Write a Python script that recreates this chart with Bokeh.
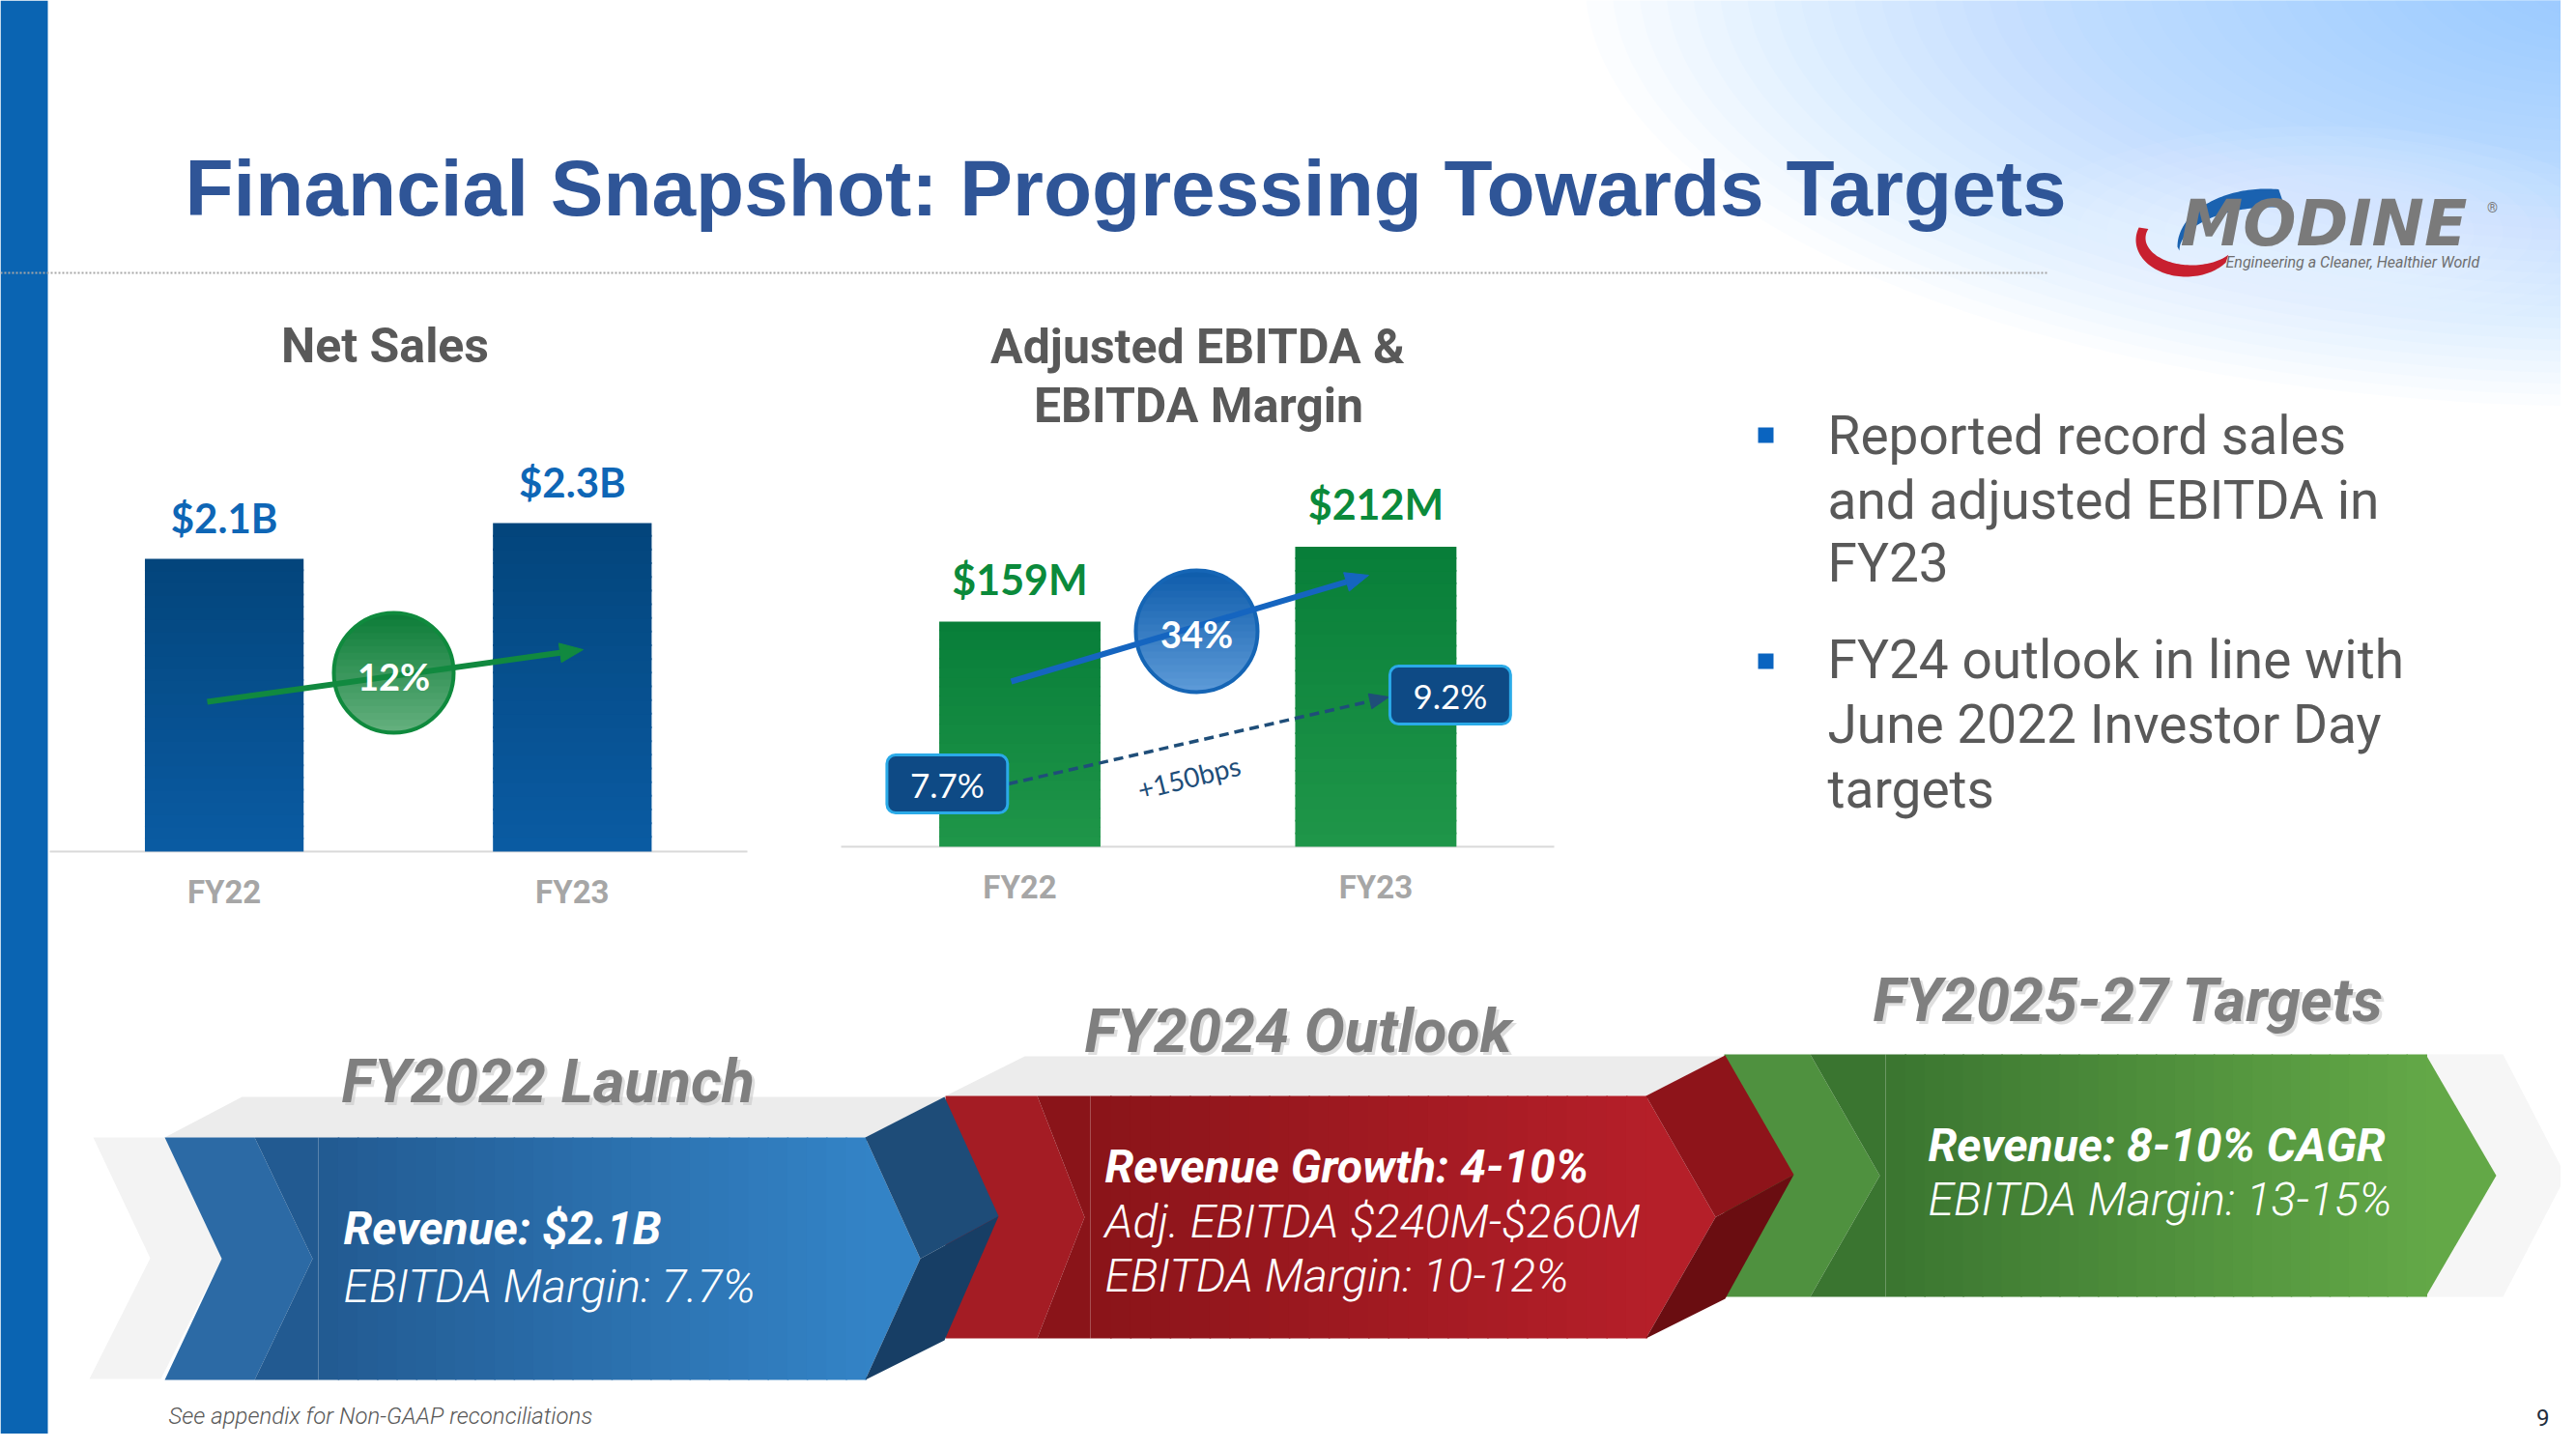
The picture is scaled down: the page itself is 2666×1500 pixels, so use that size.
import numpy as np
from bokeh.plotting import figure
from bokeh.models import Range1d, Rect
from bokeh.core.properties import value
from bokeh.embed import file_html
from bokeh.resources import INLINE

# ---------------- data ----------------
categories = ["FY22", "FY23"]
net_sales = [2.05, 2.30]                 # $B
net_sales_labels = ["$2.1B", "$2.3B"]
sales_growth = "12%"
ebitda = [159, 212]                      # $M
ebitda_labels = ["$159M", "$212M"]
ebitda_growth = "34%"
ebitda_margin = [7.7, 9.2]               # %
margin_labels = ["7.7%", "9.2%"]
margin_change = "+150bps"

title = "Financial Snapshot: Progressing Towards Targets"
chart_titles = ["Net Sales", "Adjusted EBITDA &", "EBITDA Margin"]
bullets = [["Reported record sales", "and adjusted EBITDA in", "FY23"],
           ["FY24 outlook in line with", "June 2022 Investor Day", "targets"]]
stage_titles = ["FY2022 Launch", "FY2024 Outlook", "FY2025-27 Targets"]
stage_bold = ["Revenue: $2.1B", "Revenue Growth: 4-10%", "Revenue: 8-10% CAGR"]
stage_light = [["EBITDA Margin: 7.7%"],
               ["Adj. EBITDA $240M-$260M", "EBITDA Margin: 10-12%"],
               ["EBITDA Margin: 13-15%"]]
footnote = "See appendix for Non-GAAP reconciliations"
page_no = "9"

# ---------------- canvas (data units = screenshot pixels) ----------------
FW, FH = 2650, 1484
p = figure(width=FW, height=FH, x_range=Range1d(0, FW), y_range=Range1d(FH, 0),
           output_backend="svg", toolbar_location=None,
           x_axis_location=None, y_axis_location=None, min_border=0,
           background_fill_color="white", border_fill_color="white")
p.grid.visible = False
p.outline_line_color = None


def lin_x(p0, scale):
    return Range1d(start=-p0 / scale, end=(FW - p0) / scale)


def lin_y(p0, scale, v0=0.0):
    return Range1d(start=v0 - (FH - p0) / scale, end=v0 + p0 / scale)


p.extra_x_ranges = {"ns_x": lin_x(231.6, 360.2), "eb_x": lin_x(1055.0, 368.4)}
p.extra_y_ranges = {"ns_y": lin_y(881.0, 147.8), "eb_y": lin_y(876.0, 1.465),
                    "mg_y": lin_y(811.0, 61.33, 7.7)}

ROBOTO = value("Roboto")
LIGHT = value("'Roboto Light', Roboto")
LATO = value("Lato")
ARIAL = value("Liberation Sans")


def txt(x, y, s, size, color, font=ROBOTO, style="normal", align="left",
        angle=0.0, alpha=1.0, **kw):
    """y is the vertical centre of the capitals."""
    p.text(x=[x], y=[y], text=[s], text_font=font, text_font_size=f"{size}px",
           text_font_style=style, text_color=color, text_align=align,
           text_baseline="middle", angle=angle, text_alpha=alpha, **kw)


def hex2rgb(h):
    h = h.lstrip("#")
    return np.array([int(h[i:i + 2], 16) for i in (0, 2, 4)], dtype=float)


def mix(c0, c1, t):
    a, b = hex2rgb(c0), hex2rgb(c1)
    c = a + (b - a) * t
    return "#%02x%02x%02x" % tuple(int(round(v)) for v in c)


def arrow(x0, y0, x1, y1, color, width, head_len, head_w, dash="solid"):
    d = np.array([x1 - x0, y1 - y0], dtype=float)
    L = np.hypot(*d)
    u = d / L
    n = np.array([-u[1], u[0]])
    base = np.array([x1, y1]) - u * head_len
    p.segment(x0=[x0], y0=[y0], x1=[base[0]], y1=[base[1]], line_color=color,
              line_width=width, line_dash=dash)
    a = base + n * head_w / 2
    b = base - n * head_w / 2
    p.patch([x1, a[0], b[0]], [y1, a[1], b[1]], fill_color=color, line_color=color)


def grad_bars(vals, width, c_bottom, c_top, xr, yr, n=24):
    """Bars drawn from their values, shaded bottom->top in n slices."""
    for k in range(n):
        bot = [v * k / n for v in vals]
        top = [v * (k + 1) / n + (v * 0.006 if k < n - 1 else 0) for v in vals]
        p.vbar(x=list(range(len(vals))), bottom=bot, top=top, width=width,
               fill_color=mix(c_bottom, c_top, (k + 0.5) / n), line_color=None,
               x_range_name=xr, y_range_name=yr)


def grad_circle(cx, cy, r, c_top, c_bot, ring, n=18):
    edges = np.linspace(cy - r, cy + r, n + 1)
    for k in range(n):
        ys = np.linspace(edges[k], min(edges[k + 1] + 1.2, cy + r), 6)
        w = np.sqrt(np.clip(r * r - (ys - cy) ** 2, 0, None))
        p.patch(np.r_[cx - w, (cx + w)[::-1]], np.r_[ys, ys[::-1]],
                fill_color=mix(c_top, c_bot, (k + 0.5) / n), line_color=None)
    p.scatter(x=[cx], y=[cy], size=2 * r, marker="circle", fill_color=None,
              line_color=ring, line_width=4)


# ---------------- background ----------------
NG = 36
for i in range(NG):
    f = 1 - i / NG
    p.ellipse(x=[2700], y=[-20], width=[2000 * f + 120], height=[820 * f + 60],
              fill_color="#86C9F4", fill_alpha=0.032, line_color=None)
for i in range(6):
    p.ellipse(x=[2400], y=[240], width=[620 - 60 * i], height=[220 - 20 * i],
              fill_color="white", fill_alpha=0.06, line_color=None)

# left strip
p.quad(left=[0], right=[49], top=[0], bottom=[FH], fill_color="#0A64B2", line_color=None)

# title + dotted rule
txt(191, 194, title, 82, "#2F5597", font=ARIAL, style="bold")
p.segment(x0=[0], y0=[282], x1=[2120], y1=[282], line_color="#A6A6A6",
          line_width=2, line_dash="2 2")

# ---------------- logo ----------------
def crescent(c1, r1, c2, r2, a0, a1, color):
    t = np.radians(np.linspace(a0, a1, 60))
    xo = c1[0] + r1[0] * np.cos(t)
    yo = c1[1] - r1[1] * np.sin(t)
    xi = c2[0] + r2[0] * np.cos(t[::-1])
    yi = c2[1] - r2[1] * np.sin(t[::-1])
    p.patch(np.r_[xo, xi], np.r_[yo, yi], fill_color=color, line_color=None)


crescent((2345, 255), (92, 60), (2351, 259), (96, 45), 82, 180, "#1A62B0")
crescent((2262, 248), (52, 38), (2268, 246), (48, 28), 160, 322, "#C8202F")
txt(2256, 231, "MODINE", 65, "#7A7A7A", font=value("DejaVu Sans"), style="bold italic")
txt(2579, 214, "®", 14, "#7A7A7A", align="center")
txt(2303, 271, "Engineering a Cleaner, Healthier World", 16, "#6E6E6E", style="italic")

# ---------------- Net Sales chart ----------------
idx = list(range(len(categories)))
txt(398, 357, chart_titles[0], 50, "#595959", style="bold", align="center")
p.segment(x0=[51], y0=[0], x1=[773], y1=[0], line_color="#D9D9D9", line_width=2,
          y_range_name="ns_y")
grad_bars(net_sales, 0.456, "#0A5BA3", "#03457B", "ns_x", "ns_y")
p.text(x=idx, y=net_sales, text=net_sales_labels, y_offset=-43, text_font=LATO,
       text_font_size="42px", text_font_style="bold", text_color="#0E66B6",
       text_align="center", text_baseline="middle",
       x_range_name="ns_x", y_range_name="ns_y")
p.text(x=idx, y=[923] * 2, text=categories, text_font=ROBOTO, text_font_size="33px",
       text_font_style="bold", text_color="#A6A6A6", text_align="center",
       text_baseline="middle", x_range_name="ns_x")
grad_circle(407, 696, 62, "#0B7C37", "#66B07F", "#0F8A3D")
arrow(214, 726, 603, 672, "#11893F", 6, 24, 20)
txt(407, 699, sales_growth, 38, "white", font=LATO, style="bold", align="center")

# ---------------- Adjusted EBITDA chart ----------------
txt(1239, 358, chart_titles[1], 50, "#595959", style="bold", align="center")
txt(1240, 419, chart_titles[2], 50, "#595959", style="bold", align="center")
p.segment(x0=[870], y0=[0], x1=[1608], y1=[0], line_color="#D9D9D9", line_width=2,
          y_range_name="eb_y")
grad_bars(ebitda, 0.453, "#1F9649", "#087E39", "eb_x", "eb_y")
p.text(x=idx, y=ebitda, text=ebitda_labels, y_offset=-44, text_font=LATO,
       text_font_size="43px", text_font_style="bold", text_color="#0B8A3B",
       text_align="center", text_baseline="middle",
       x_range_name="eb_x", y_range_name="eb_y")
p.text(x=idx, y=[917.5] * 2, text=categories, text_font=ROBOTO, text_font_size="33px",
       text_font_style="bold", text_color="#A6A6A6", text_align="center",
       text_baseline="middle", x_range_name="eb_x")
grad_circle(1238, 653, 63, "#0E5CAB", "#5E9BD8", "#1565B5")
arrow(1046, 705, 1416, 595, "#1565C0", 6, 24, 20)
txt(1238, 655, ebitda_growth, 38, "white", font=LATO, style="bold", align="center")

# margin boxes
box_dx = [-0.204, 0.209]
mx = [i + d for i, d in zip(idx, box_dx)]
rect_kw = dict(fill_color="#0E4A85", line_color="#2AAAE8", line_width=3)
if "border_radius" in Rect.properties():
    rect_kw["border_radius"] = 9
arrow(1043, 811, 1437, 721, "#1F4E79", 3.5, 20, 16, dash="10 6")
p.rect(x=mx, y=ebitda_margin, width=0.339, height=0.978, x_range_name="eb_x",
       y_range_name="mg_y", **rect_kw)
p.text(x=mx, y=ebitda_margin, text=margin_labels, text_font=LATO, text_font_size="35px",
       text_color="white", text_align="center", text_baseline="middle",
       x_range_name="eb_x", y_range_name="mg_y")
txt(1230, 804, margin_change, 28, "#1F4E79", font=LATO, align="center",
    angle=np.radians(14))

# ---------------- bullets ----------------
bullet_y = [450, 684]
p.scatter(x=[1827, 1827], y=bullet_y, marker="square", size=16, fill_color="#0A64C0",
          line_color=None)
line_mid = [[450.5, 517, 582.5], [682.5, 749.5, 816.5]]
for lines, ys in zip(bullets, line_mid):
    for s, y in zip(lines, ys):
        txt(1891, y, s, 55, "#595959")

# ---------------- chevrons ----------------
GREY = "#ECECEC"
p.patch([96, 170, 229, 166, 92, 155], [1177, 1177, 1302, 1427, 1427, 1302],
        fill_color="#F3F3F3", line_color=None)
p.patch([250, 978, 895, 170], [1135, 1135, 1177, 1177], fill_color=GREY, line_color=None)
p.patch([1060, 1784, 1703, 978], [1093, 1093, 1134, 1134], fill_color=GREY, line_color=None)
p.patch([2510, 2590, 2655, 2590, 2510, 2583], [1091, 1091, 1217, 1342, 1342, 1217],
        fill_color="#F6F6F6", line_color=None)


def band(bl, bn, ml, nx, yt, yb, col):
    ym = (yt + yb) / 2
    p.patch([bl, ml, nx, ml, bl, bn], [yt, yt, ym, yb, yb, ym], fill_color=col,
            line_color=None)


def face(ml, nx, r, tip, yt, yb, c0, c1, n=28):
    ym = (yt + yb) / 2
    s0 = nx + 6
    p.patch([ml, s0, s0, ml, nx], [yt, yt, yb, yb, ym], fill_color=c0, line_color=None)
    xs = np.linspace(s0, r, n + 1)
    cols = [mix(c0, c1, (k + 0.5) / n) for k in range(n)]
    p.quad(left=xs[:-1], right=xs[1:] + 1.5, top=[yt] * n, bottom=[yb] * n,
           fill_color=cols, line_color=None)
    p.patch([r, tip, r], [yt, ym, yb], fill_color=c1, line_color=None)


def side(r, tip, yt, yb, tip2, cu, cl):
    ym = (yt + yb) / 2
    p.patch([r, r + 82, tip2, tip], [yt, yt - 42, ym - 44, ym], fill_color=cu, line_color=None)
    p.patch([tip, tip2, r + 82, r], [ym, ym - 44, yb - 41, yb], fill_color=cl, line_color=None)


# bands (back)
band(978, 978, 1073, 1122, 1134, 1385, "#A41C24")
band(1784, 1784, 1873, 1945, 1091, 1342, "#4F913F")
band(170, 229, 263, 323, 1177, 1428, "#2C6AA5")
# blue
face(263, 323, 895, 952, 1177, 1428, "#225A91", "#3383C6")
side(895, 952, 1177, 1428, 1033, "#1E4C78", "#173E65")
# red
face(1073, 1122, 1703, 1775, 1134, 1385, "#8A1419", "#B51F29")
side(1703, 1775, 1134, 1385, 1856, "#8E141A", "#6A0D11")
# green
face(1873, 1945, 2510, 2583, 1091, 1342, "#3A7530", "#63A847")

# stage titles (with soft shadow)
stage_pos = [(353, 1119), (1122, 1066.5), (1938, 1035)]
for s, (x, y) in zip(stage_titles, stage_pos):
    txt(x + 3, y + 3, s, 63, "#BFBFBF", style="bold italic", alpha=0.5)
    txt(x, y, s, 63, "#7F7F7F", style="bold italic")

# stage contents: (x, first-line centre, line step)
content_pos = [(355, 1270.5, 60.5), (1143, 1207, 56.5), (1995, 1184.5, 56.5)]
for b, lights, (x, y, step) in zip(stage_bold, stage_light, content_pos):
    txt(x, y, b, 48, "white", style="bold italic")
    for k, s in enumerate(lights):
        txt(x, y + step * (k + 1), s, 48, "white", font=LIGHT, style="italic")

# footer
txt(174, 1465, footnote, 24, "#595959", font=LIGHT, style="italic")
txt(2638, 1467, page_no, 24, "#1F2D3D", align="right")

open("out.html", "w").write(file_html(p, INLINE))
